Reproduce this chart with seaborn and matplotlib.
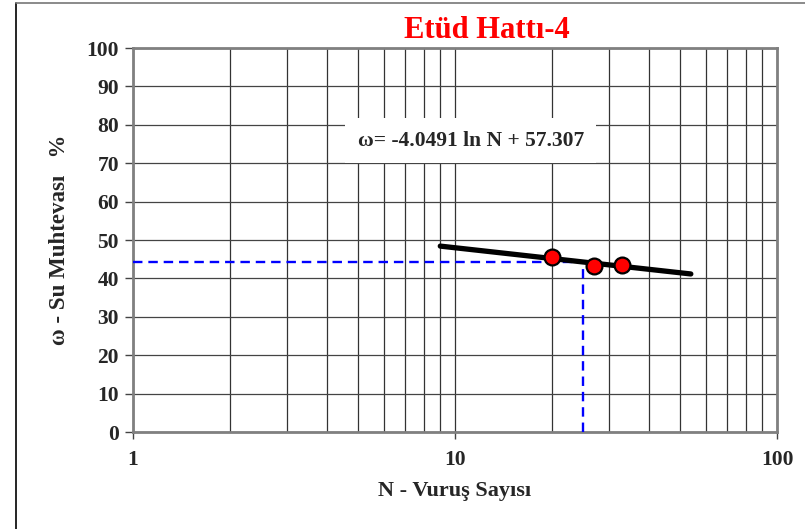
import numpy as np
import pandas as pd
import matplotlib
matplotlib.use("Agg")
import matplotlib.pyplot as plt
from matplotlib.lines import Line2D
from matplotlib.ticker import FixedLocator, NullFormatter
import seaborn as sns

# ---- data ----
n_points = [20.0, 27.0, 33.0]
w_points = [45.5, 43.3, 43.6]
fit_a = -4.0491
fit_b = 57.307
fit_range = [9.0, 54.0]
n_target = 25.0
title = "Etüd Hattı-4"
xlabel = "N - Vuruş Sayısı"
ylabel = "ω - Su Muhtevası   %"
eq_text = "ω= -4.0491 ln N + 57.307"
y_ticks = [0, 10, 20, 30, 40, 50, 60, 70, 80, 90, 100]
x_major = [1, 10, 100]

sns.set_theme(style="white")
plt.rcParams['font.family'] = ['Liberation Serif', 'DejaVu Serif']
plt.rcParams['font.weight'] = 'bold'

fig = plt.figure(figsize=(8.05, 5.29), dpi=100)
W, H = 805, 529
ax = fig.add_axes([133 / W, 1 - 432 / H, (777 - 133) / W, (432 - 48) / H])

ax.set_xscale('log')
ax.set_xlim(1, 100)
ax.set_ylim(0, 100)

minor = [m * d for d in (1, 10) for m in range(2, 10)]
ax.xaxis.set_major_locator(FixedLocator(x_major))
ax.xaxis.set_minor_locator(FixedLocator(minor))
ax.xaxis.set_minor_formatter(NullFormatter())
ax.set_xticklabels([str(v) for v in x_major])
ax.set_yticks(y_ticks)

ax.grid(True, which='major', axis='x', color='#333333', linewidth=0.9)
ax.grid(True, which='minor', axis='x', color='#333333', linewidth=0.9)
ax.grid(True, which='major', axis='y', color='#444444', linewidth=0.9)
ax.set_axisbelow(True)

for s in ax.spines.values():
    s.set_color('#808080')
    s.set_linewidth(2.0)

ax.tick_params(axis='y', which='major', direction='out', length=6, width=1, color='#444444',
               labelsize=15.5, pad=4, left=True)
ax.tick_params(axis='x', which='major', direction='out', length=5, width=1, color='#444444',
               labelsize=15.5, pad=8, bottom=True)
ax.tick_params(axis='x', which='minor', length=0)
for lbl in ax.get_xticklabels() + ax.get_yticklabels():
    lbl.set_fontweight('bold')

# fit line
n_fit = np.array(fit_range)
fit_df = pd.DataFrame({'N': n_fit, 'w': fit_a * np.log(n_fit) + fit_b})
sns.lineplot(data=fit_df, x='N', y='w', ax=ax, color='black', linewidth=3.8, zorder=4)

# target dashed lines
w_target = fit_a * np.log(n_target) + fit_b
ax.plot([1, n_target], [w_target, w_target], color='#0000ff', linestyle=(0, (4, 2.5)), linewidth=1.7, zorder=3)
ax.plot([n_target, n_target], [0, w_target], color='#0000ff', linestyle=(0, (4, 2.5)), linewidth=1.7, zorder=3)

# data points
pts = pd.DataFrame({'N': n_points, 'w': w_points})
sns.scatterplot(data=pts, x='N', y='w', ax=ax, color='red', edgecolor='black',
                linewidth=1.6, s=130, zorder=5)

ax.text(11.2, 75.8, eq_text, ha='center', va='center', fontsize=15.5, fontweight='bold',
        bbox=dict(facecolor='white', edgecolor='none', pad=9), zorder=6)

ax.set_xlabel(xlabel, fontsize=16, fontweight='bold', labelpad=8)
ax.set_ylabel(ylabel, fontsize=16.5, fontweight='bold', labelpad=12)

fig.text(487 / W, 1 - 30 / H, title, ha='center', va='center', color='red',
         fontsize=22, fontweight='bold')

# outer frame (cropped chart border)
fig.add_artist(Line2D([16 / W, 16 / W], [0, 1 - 3 / H], color='black', linewidth=1.2))
fig.add_artist(Line2D([16 / W, 1], [1 - 3 / H, 1 - 3 / H], color='#777777', linewidth=1.2))

fig.savefig('out.png', dpi=100)
